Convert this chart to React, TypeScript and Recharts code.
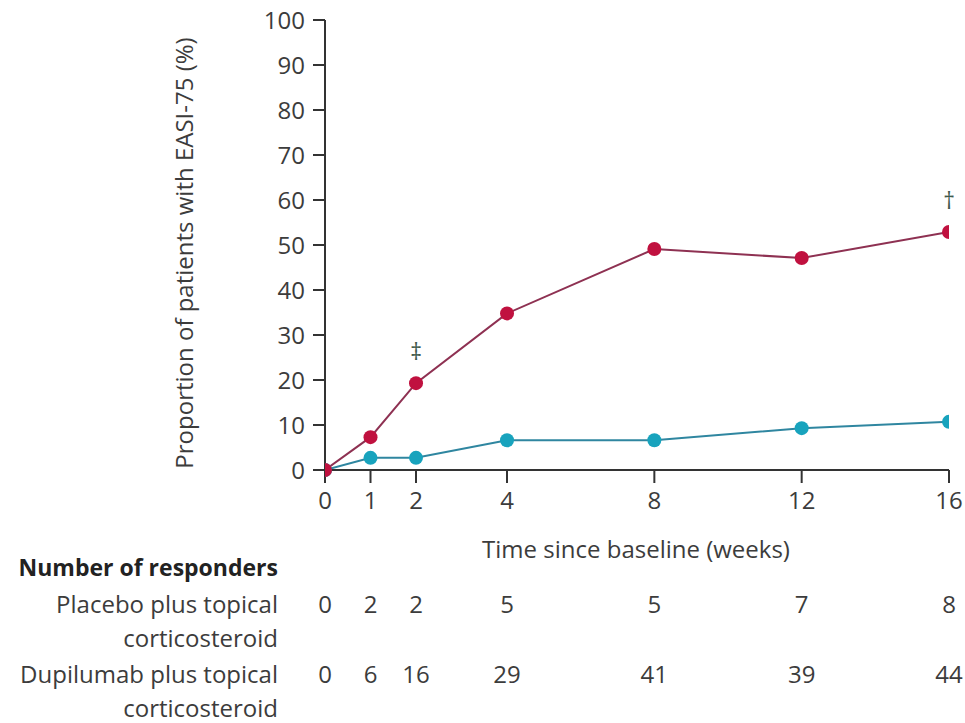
import React from 'react';
import { LineChart, Line, XAxis, YAxis, LabelList } from 'recharts';

// Assessment weeks and the share of patients reaching EASI-75 (%)
const weeks = [0, 1, 2, 4, 8, 12, 16];
const placeboPct = [0, 2.7, 2.7, 6.6, 6.6, 9.3, 10.7];
const dupilumabPct = [0, 7.3, 19.3, 34.8, 49.1, 47.1, 52.9];
const dupilumabMarks = ['', '', '‡', '', '', '', '†'];

// Number of responders at each week
const placeboResponders = [0, 2, 2, 5, 5, 7, 8];
const dupilumabResponders = [0, 6, 16, 29, 41, 39, 44];

const yTicks = [0, 10, 20, 30, 40, 50, 60, 70, 80, 90, 100];

const data = weeks.map((w, i) => ({
  week: w,
  placebo: placeboPct[i],
  dupilumab: dupilumabPct[i],
  mark: dupilumabMarks[i],
}));

const FONT = '"Open Sans", "DejaVu Sans", sans-serif';
const FS = 24;
const TEXT = '#3c3c3c';
const AXIS = '#333333';
const RED_DOT = '#c0113f';
const RED_LINE = '#8e3152';
const BLUE_DOT = '#18a3bd';
const BLUE_LINE = '#2f86a0';

// Time axis: the first four weeks are drawn wider than the later weeks.
const BREAK_WEEK = 4;
const BREAK_FRACTION = 0.2917;

function makeWeekScale(dom: number[] = [0, 16], rng: number[] = [0, 1]): any {
  let d = dom.slice();
  let r = rng.slice();
  const frac = (v: number) => {
    const [d0, d1] = d;
    if (v <= BREAK_WEEK) return ((v - d0) / (BREAK_WEEK - d0)) * BREAK_FRACTION;
    return BREAK_FRACTION + ((v - BREAK_WEEK) / (d1 - BREAK_WEEK)) * (1 - BREAK_FRACTION);
  };
  const scale: any = (v: number) => r[0] + frac(Number(v)) * (r[r.length - 1] - r[0]);
  scale.domain = (nd?: number[]) => {
    if (nd === undefined) return d.slice();
    d = [Number(nd[0]), Number(nd[nd.length - 1])];
    return scale;
  };
  scale.range = (nr?: number[]) => {
    if (nr === undefined) return r.slice();
    r = [Number(nr[0]), Number(nr[nr.length - 1])];
    return scale;
  };
  scale.copy = () => makeWeekScale(d, r);
  scale.ticks = () => weeks.slice();
  scale.tickFormat = () => (v: number) => String(v);
  scale.nice = () => scale;
  scale.clamp = () => scale;
  scale.unknown = () => scale;
  return scale;
}

const YAxisTitle = (props: any) => {
  const vb = props.viewBox || {};
  const cx = 183;
  const cy = vb.y + vb.height / 2 + 8;
  return (
    <text
      x={cx}
      y={cy}
      transform={`rotate(-90, ${cx}, ${cy})`}
      textAnchor="middle"
      dominantBaseline="central"
      fill={TEXT}
      fontFamily={FONT}
      fontSize={24}
    >
      Proportion of patients with EASI-75 (%)
    </text>
  );
};

const XAxisTitle = (props: any) => {
  const vb = props.viewBox || {};
  return (
    <text
      x={636}
      y={vb.y + 78}
      textAnchor="middle"
      dominantBaseline="central"
      fill={TEXT}
      fontFamily={FONT}
      fontSize={FS}
    >
      Time since baseline (weeks)
    </text>
  );
};

const RowLabel = ({ viewBox, lines, header }: any) => {
  const vb = viewBox || {};
  return (
    <g>
      {header ? (
        <text
          x={278}
          y={vb.y + 2}
          textAnchor="end"
          dominantBaseline="central"
          fill="#222"
          fontFamily={FONT}
          fontSize={23}
          fontWeight={700}
        >
          {header}
        </text>
      ) : null}
      {lines.map((ln: string, i: number) => (
        <text
          key={ln}
          x={278}
          y={vb.y + 38 + i * 34}
          textAnchor="end"
          dominantBaseline="central"
          fill={TEXT}
          fontFamily={FONT}
          fontSize={FS}
        >
          {ln}
        </text>
      ))}
    </g>
  );
};

const makeCountTick = (counts: number[]) => (props: any) => {
  const { x, y, payload } = props;
  const idx = weeks.indexOf(Number(payload.value));
  return (
    <text
      x={x}
      y={y + 38}
      textAnchor="middle"
      dominantBaseline="central"
      fill={TEXT}
      fontFamily={FONT}
      fontSize={FS}
    >
      {idx >= 0 ? counts[idx] : ''}
    </text>
  );
};

const MarkLabel = (props: any) => {
  const { x, y, value } = props;
  if (!value) return null;
  return (
    <text
      x={x}
      y={y - 32}
      textAnchor="middle"
      dominantBaseline="central"
      fill="#3f5a4c"
      fontFamily={FONT}
      fontSize={23}
    >
      {value}
    </text>
  );
};

export default function App() {
  return (
    <div style={{ position: 'absolute', left: 0, top: 0, width: 965, height: 723, background: '#fff' }}>
      <LineChart
        width={965}
        height={723}
        data={data}
        margin={{ top: 20, right: 16, bottom: 18, left: 0 }}
      >
        <XAxis
          dataKey="week"
          type="number"
          scale={makeWeekScale()}
          domain={[0, 16]}
          ticks={weeks}
          allowDataOverflow
          interval={0}
          height={95}
          stroke={AXIS}
          strokeWidth={2}
          tickSize={13}
          tickMargin={9}
          tick={{ fill: TEXT, fontFamily: FONT, fontSize: FS }}
          label={<XAxisTitle />}
        />
        <XAxis
          xAxisId="row1"
          dataKey="week"
          type="number"
          scale={makeWeekScale()}
          domain={[0, 16]}
          ticks={weeks}
          allowDataOverflow
          interval={0}
          height={70}
          axisLine={false}
          tickLine={false}
          tickSize={0}
          tickMargin={0}
          tick={makeCountTick(placeboResponders)}
          label={
            <RowLabel
              header="Number of responders"
              lines={['Placebo plus topical', 'corticosteroid']}
            />
          }
        />
        <XAxis
          xAxisId="row2"
          dataKey="week"
          type="number"
          scale={makeWeekScale()}
          domain={[0, 16]}
          ticks={weeks}
          allowDataOverflow
          interval={0}
          height={70}
          axisLine={false}
          tickLine={false}
          tickSize={0}
          tickMargin={0}
          tick={makeCountTick(dupilumabResponders)}
          label={<RowLabel lines={['Dupilumab plus topical', 'corticosteroid']} />}
        />
        <YAxis
          type="number"
          domain={[0, 100]}
          ticks={yTicks}
          interval={0}
          width={325}
          stroke={AXIS}
          strokeWidth={2}
          tickSize={12}
          tickMargin={8}
          tick={{ fill: TEXT, fontFamily: FONT, fontSize: FS }}
          label={<YAxisTitle />}
        />
        <Line
          dataKey="placebo"
          stroke={BLUE_LINE}
          strokeWidth={2}
          dot={{ r: 7, fill: BLUE_DOT, stroke: BLUE_DOT, strokeWidth: 0 }}
          isAnimationActive={false}
        />
        <Line
          dataKey="dupilumab"
          stroke={RED_LINE}
          strokeWidth={2}
          dot={{ r: 7, fill: RED_DOT, stroke: RED_DOT, strokeWidth: 0 }}
          isAnimationActive={false}
        >
          <LabelList dataKey="mark" content={<MarkLabel />} />
        </Line>
      </LineChart>
    </div>
  );
}
